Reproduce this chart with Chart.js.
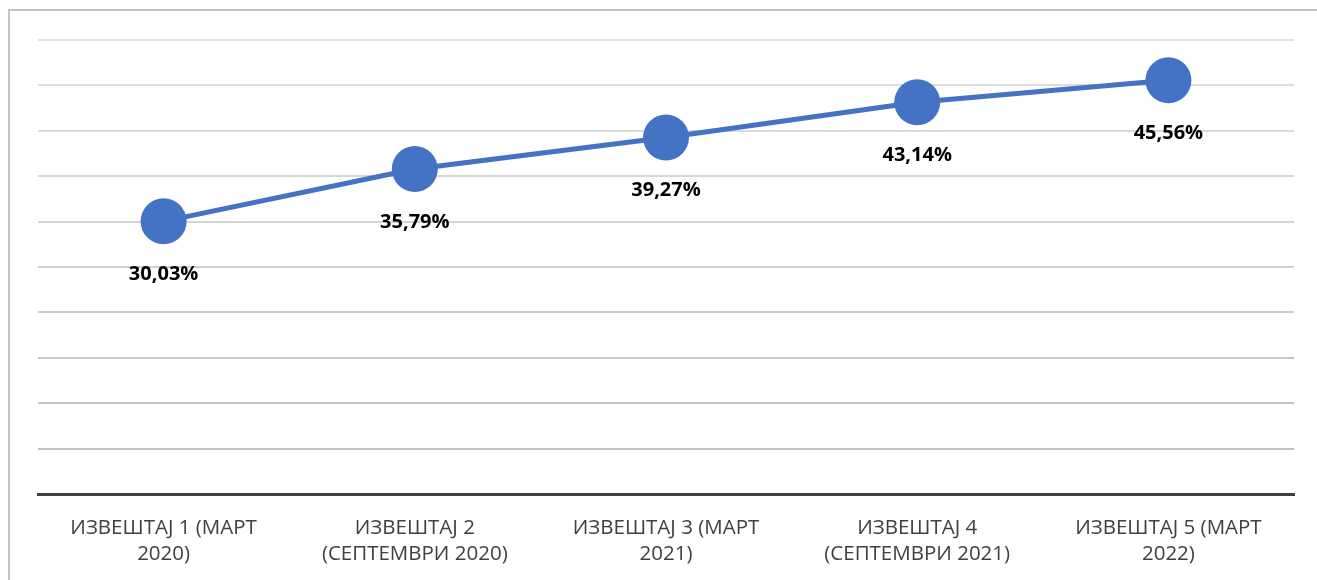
<!DOCTYPE html>
<html>
<head>
<meta charset="utf-8">
<script src="https://cdn.jsdelivr.net/npm/chart.js@4/dist/chart.umd.min.js"></script>
<style>
  html, body { margin: 0; padding: 0; background: #ffffff; overflow: hidden; }
  #wrap { position: relative; width: 1317px; height: 580px; }
  #frame { position: absolute; left: 8px; top: 9px; width: 1400px; height: 700px;
           border-left: 2px solid #c4c4c4; border-top: 2px solid #c4c4c4; pointer-events: none; }
  canvas { position: absolute; left: 0; top: 0; }
</style>
</head>
<body>
<div id="wrap">
  <canvas id="c" width="1317" height="580"></canvas>
  <div id="frame"></div>
</div>
<script>
const categories = [
  ["ИЗВЕШТАЈ 1 (МАРТ", "2020)"],
  ["ИЗВЕШТАЈ 2", "(СЕПТЕМВРИ 2020)"],
  ["ИЗВЕШТАЈ 3 (МАРТ", "2021)"],
  ["ИЗВЕШТАЈ 4", "(СЕПТЕМВРИ 2021)"],
  ["ИЗВЕШТАЈ 5 (МАРТ", "2022)"]
];
const values = [30.03, 35.79, 39.27, 43.14, 45.56];
const yMin = 0, yMax = 50, yStep = 5;

const valueLabels = {
  id: 'valueLabels',
  afterDatasetsDraw(chart) {
    const ctx = chart.ctx;
    const meta = chart.getDatasetMeta(0);
    ctx.save();
    ctx.font = 'bold 20px "Open Sans"';
    ctx.fillStyle = '#000000';
    ctx.textAlign = 'center';
    ctx.textBaseline = 'middle';
    meta.data.forEach((pt, i) => {
      const txt = values[i].toFixed(2).replace('.', ',') + '%';
      ctx.fillText(txt, pt.x, pt.y + 53);
    });
    ctx.restore();
  }
};

function gridColor(c) {
  if (!c.tick || c.tick.value === 0) return 'rgba(0,0,0,0)';
  const t = c.tick.value / yMax; // 0 bottom .. 1 top
  const g = Math.round(190 + t * 36);
  return `rgb(${g},${g},${g})`;
}

new Chart(document.getElementById('c'), {
  type: 'line',
  data: {
    labels: categories,
    datasets: [{
      data: values,
      borderColor: '#4472C4',
      backgroundColor: '#4472C4',
      borderWidth: 5,
      pointRadius: 23,
      pointHoverRadius: 23,
      pointBackgroundColor: '#4472C4',
      pointBorderWidth: 0,
      tension: 0,
      fill: false
    }]
  },
  options: {
    responsive: false,
    animation: false,
    events: [],
    layout: { padding: { left: 38, right: 15, top: 40, bottom: 0 } },
    plugins: { legend: { display: false }, tooltip: { enabled: false } },
    scales: {
      x: {
        offset: true,
        grid: { display: false },
        border: { display: true, color: '#404040', width: 3 },
        ticks: {
          color: '#404040',
          font: { family: '"Open Sans"', size: 20.5, lineHeight: '26px' },
          padding: 13,
          maxRotation: 0,
          autoSkip: false
        },
        afterFit(scale) { scale.height = 86; }
      },
      y: {
        min: yMin, max: yMax,
        ticks: { display: false, stepSize: yStep },
        border: { display: false },
        grid: {
          drawTicks: false,
          lineWidth: 2,
          color: gridColor
        },
        afterFit(scale) { scale.width = 0; }
      }
    }
  },
  plugins: [valueLabels]
});
</script>
</body>
</html>
